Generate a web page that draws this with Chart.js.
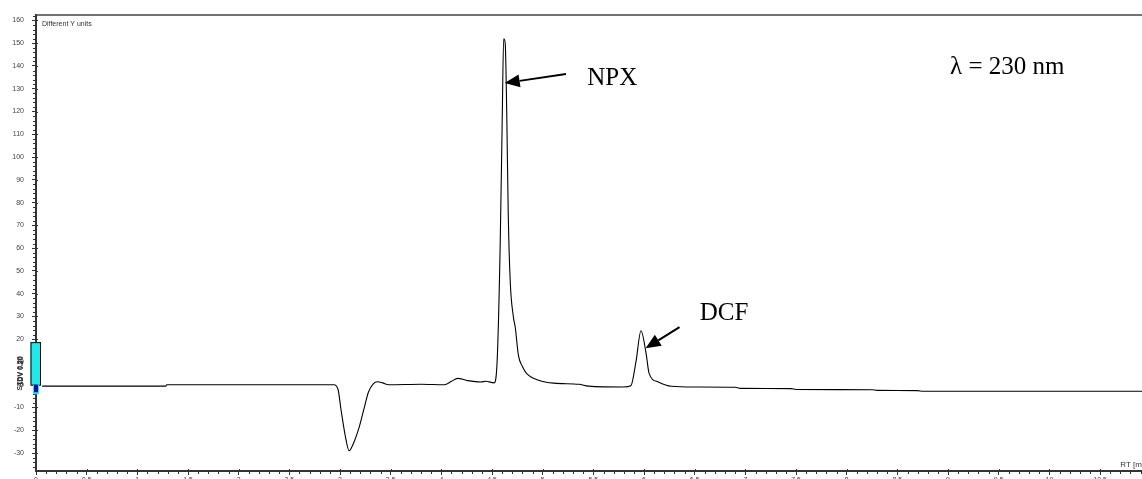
<!DOCTYPE html>
<html>
<head>
<meta charset="utf-8">
<script src="https://cdn.jsdelivr.net/npm/chart.js@4.4.1/dist/chart.umd.min.js"></script>
<style>
html,body{margin:0;padding:0;background:#fff;overflow:hidden;width:1142px;height:479px;}
canvas{display:block;}
</style>
</head>
<body>
<canvas id="c" width="1171" height="490"></canvas>
<script>
// Retention time (min)
const rt = [0.06, 1.28, 1.29, 2.94, 2.98, 3.01, 3.05, 3.09, 3.13, 3.19, 3.24, 3.28, 3.33, 3.37, 3.42, 3.48, 3.80, 4.03, 4.10, 4.16, 4.26, 4.39, 4.44, 4.52, 4.55, 4.58, 4.60, 4.615, 4.63, 4.645, 4.66, 4.68, 4.71, 4.73, 4.76, 4.80, 4.84, 4.96, 5.11, 5.36, 5.45, 5.80, 5.87, 5.92, 5.97, 6.02, 6.05, 6.14, 6.27, 6.5, 6.9, 6.95, 7.45, 7.5, 8.25, 8.3, 8.7, 8.75, 11.2];
// Detector signal
const signal = [-0.6, -0.6, 0, 0, -2, -11, -22, -29, -26, -18.5, -10, -3.3, 0.5, 1.3, 0.8, 0, 0.2, 0, 1.5, 2.8, 1.8, 1.2, 1.5, 0.8, 10, 60, 115, 152, 150, 120, 75, 45, 30, 25, 13, 8, 5, 2, 0.7, 0.2, -0.6, -1, -0.5, 10, 23.7, 13.8, 5, 1.2, -0.7, -1, -1.1, -1.6, -1.7, -2.1, -2.2, -2.5, -2.6, -2.9, -2.9];

const xRange = [0, 11.2];
const yRange = [-37.9, 162.4];
const xStep = 0.5, xMinor = 0.1;
const yStep = 10, yMinor = 2;

// Peak annotations (data units): label, text anchor, arrow start, arrow tip
const annLabels = ['NPX', 'DCF'];
const annText = [[5.44, 134.7], [6.55, 31.4]];
const annArrowFrom = [[5.23, 136.5], [6.35, 25.3]];
const annArrowTo = [[4.625, 132.5], [6.015, 16]];
const waveText = 'λ = 230 nm';
const waveAt = [9.02, 139.5];
const yUnitsText = 'Different Y units';
const xTitle = 'RT [min]';
const stdvBox = [18.7, 0];
const stdvSmall = [0, -3.3];

const points = rt.map((t, i) => ({x: t, y: signal[i]}));
const AX = '#333';
const fmt = v => String(Math.round(v * 10) / 10);

const deco = {
  id: 'deco',
  afterDraw(chart) {
    const c = chart.ctx, a = chart.chartArea, xs = chart.scales.x, ys = chart.scales.y;
    c.save();
    // top frame line
    c.strokeStyle = '#444'; c.lineWidth = 1.5;
    c.beginPath(); c.moveTo(a.left, a.top); c.lineTo(a.right, a.top); c.stroke();
    // minor ticks
    c.strokeStyle = AX; c.lineWidth = 1;
    for (let v = xRange[0]; v <= xRange[1] + 1e-9; v += xMinor) {
      const r = Math.round(v * 10) / 10;
      if (Math.abs(r / xStep - Math.round(r / xStep)) < 1e-6) continue;
      const px = Math.round(xs.getPixelForValue(r)) + 0.5;
      c.beginPath(); c.moveTo(px, a.bottom); c.lineTo(px, a.bottom + 3); c.stroke();
    }
    for (let v = -36; v <= 162; v += yMinor) {
      if (v % yStep === 0) continue;
      const py = Math.round(ys.getPixelForValue(v)) + 0.5;
      c.beginPath(); c.moveTo(a.left - 3, py); c.lineTo(a.left, py); c.stroke();
    }
    // major ticks crossing into the plot slightly
    for (let v = xRange[0]; v <= xRange[1] + 1e-9; v += xStep) {
      const px = Math.round(xs.getPixelForValue(v)) + 0.5;
      c.beginPath(); c.moveTo(px, a.bottom - 2); c.lineTo(px, a.bottom); c.stroke();
    }
    for (let v = -30; v <= 160; v += yStep) {
      const py = Math.round(ys.getPixelForValue(v)) + 0.5;
      c.beginPath(); c.moveTo(a.left, py); c.lineTo(a.left + 2, py); c.stroke();
    }
    // small texts
    c.fillStyle = '#333';
    c.font = '7px "Liberation Sans", Arial, sans-serif';
    c.textBaseline = 'middle'; c.textAlign = 'left';
    c.fillText(yUnitsText, a.left + 6, a.top + 9);
    c.font = '8px "Liberation Sans", Arial, sans-serif';
    c.fillText(xTitle, xs.getPixelForValue(10.7), a.bottom - 6);
    // stdv marker
    const x0 = a.left - 5.5, x1 = a.left + 5;
    const yT = ys.getPixelForValue(stdvBox[0]), yB = ys.getPixelForValue(stdvBox[1]);
    c.fillStyle = '#22e8ea'; c.strokeStyle = '#000'; c.lineWidth = 1;
    c.fillRect(x0, yT, x1 - x0, yB - yT); c.strokeRect(x0 + 0.5, yT + 0.5, x1 - x0 - 1, yB - yT);
    const sy0 = ys.getPixelForValue(stdvSmall[0]), sy1 = ys.getPixelForValue(stdvSmall[1]);
    c.fillStyle = '#22e8ea'; c.fillRect(a.left - 3, sy0, 6, sy1 - sy0 + 2);
    c.fillStyle = '#1010a0'; c.fillRect(a.left - 2, sy0, 4, sy1 - sy0);
    // garbled rotated label
    c.save();
    c.translate(a.left - 16, ys.getPixelForValue(5));
    c.rotate(-Math.PI / 2);
    c.fillStyle = '#333';
    c.font = 'bold 7px "Liberation Sans", Arial, sans-serif';
    c.textAlign = 'center';
    c.fillText('STDV 0.20', 0, 0);
    c.fillText('SDV 0.20', 2, 1);
    c.restore();
    // annotations
    c.fillStyle = '#000'; c.strokeStyle = '#000';
    c.font = '25px "Liberation Serif", "Times New Roman", serif';
    c.textAlign = 'left'; c.textBaseline = 'middle';
    annLabels.forEach((lab, i) => {
      c.fillText(lab, xs.getPixelForValue(annText[i][0]), ys.getPixelForValue(annText[i][1]));
      const fx = xs.getPixelForValue(annArrowFrom[i][0]), fy = ys.getPixelForValue(annArrowFrom[i][1]);
      const tx = xs.getPixelForValue(annArrowTo[i][0]), ty = ys.getPixelForValue(annArrowTo[i][1]);
      const ang = Math.atan2(ty - fy, tx - fx), L = 15, W = 6.5;
      const bx = tx - L * Math.cos(ang), by = ty - L * Math.sin(ang);
      c.lineWidth = 2;
      c.beginPath(); c.moveTo(fx, fy); c.lineTo(bx, by); c.stroke();
      c.beginPath();
      c.moveTo(tx, ty);
      c.lineTo(bx + W * Math.sin(ang), by - W * Math.cos(ang));
      c.lineTo(bx - W * Math.sin(ang), by + W * Math.cos(ang));
      c.closePath(); c.fill();
    });
    c.fillText(waveText, xs.getPixelForValue(waveAt[0]), ys.getPixelForValue(waveAt[1]));
    c.restore();
  }
};

new Chart(document.getElementById('c'), {
  type: 'line',
  data: {
    datasets: [{
      data: points,
      borderColor: '#000',
      borderWidth: 1.1,
      pointRadius: 0,
      fill: false,
      cubicInterpolationMode: 'monotone'
    }]
  },
  options: {
    responsive: false,
    animation: false,
    events: [],
    layout: {padding: {top: 15, left: 0, right: 0, bottom: 0}},
    plugins: {legend: {display: false}, tooltip: {enabled: false}},
    scales: {
      x: {
        type: 'linear', min: xRange[0], max: xRange[1],
        afterFit(s) { s.height = 19; },
        border: {color: AX, width: 2},
        grid: {drawOnChartArea: false, tickLength: 4, color: AX},
        ticks: {stepSize: xStep, includeBounds: false, autoSkip: false, maxRotation: 0, padding: 1,
          color: '#444', font: {size: 7, family: '"Liberation Sans", Arial, sans-serif'}, callback: v => fmt(v)}
      },
      y: {
        type: 'linear', min: yRange[0], max: yRange[1],
        afterFit(s) { s.width = 36; },
        border: {color: AX, width: 2},
        grid: {drawOnChartArea: false, tickLength: 4, color: AX},
        ticks: {stepSize: yStep, includeBounds: false, padding: 8,
          color: '#444', font: {size: 7, family: '"Liberation Sans", Arial, sans-serif'}, callback: v => fmt(v)}
      }
    }
  },
  plugins: [deco]
});
</script>
</body>
</html>
